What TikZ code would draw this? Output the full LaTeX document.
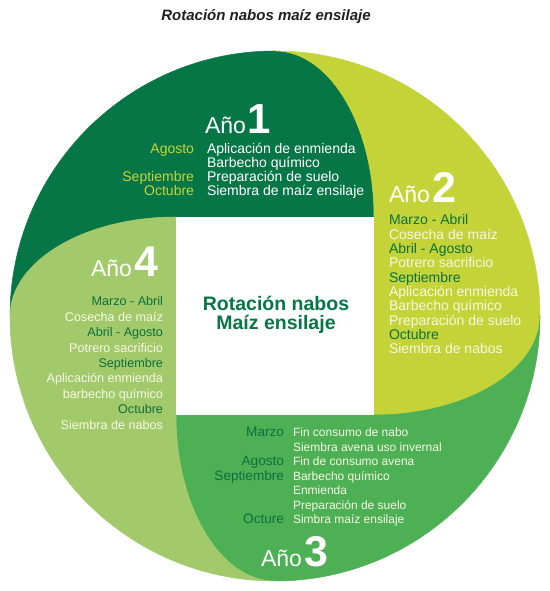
\documentclass[tikz,border=0pt]{standalone}
\usepackage{fontspec}
\setmainfont{Liberation Sans}
\definecolor{gA}{RGB}{7,118,70}
\definecolor{gB}{RGB}{196,212,56}
\definecolor{gC}{RGB}{78,176,84}
\definecolor{gD}{RGB}{162,202,106}
\definecolor{monthdark}{RGB}{12,112,62}
\definecolor{offw}{RGB}{246,248,228}
\definecolor{titlec}{RGB}{35,31,32}
\begin{document}
\begin{tikzpicture}[x=1pt,y=1pt,
  every node/.style={inner sep=0pt,outer sep=0pt},
  regA/.style={fill=gA,draw=gA,line width=0.5pt},
  regB/.style={fill=gB,draw=gB,line width=0.5pt},
  regC/.style={fill=gC,draw=gC,line width=0.5pt},
  regD/.style={fill=gD,draw=gD,line width=0.5pt},
  anotext/.style={text=white,font=\fontsize{23}{23}\selectfont},
  actA/.style={text=white,font=\fontsize{14}{14}\selectfont},
  monA/.style={text=gB,font=\fontsize{14}{14}\selectfont},
  actB/.style={text=offw,font=\fontsize{14}{14}\selectfont},
  monB/.style={text=monthdark,font=\fontsize{14}{14}\selectfont},
  actC/.style={text=offw,font=\fontsize{12}{12}\selectfont},
  monC/.style={text=monthdark,font=\fontsize{13.6}{13.6}\selectfont},
  actD/.style={text=offw,font=\fontsize{12.6}{12.6}\selectfont},
  monD/.style={text=monthdark,font=\fontsize{12.6}{12.6}\selectfont},
  centertext/.style={text=gA,font=\fontsize{19.5}{19.5}\selectfont\bfseries}
]
\useasboundingbox (0,0) rectangle (549,591);
\fill[white] (0,0) rectangle (549,591);
% Year 1 (top)
\path[regA] (275,540) arc[start angle=90,end angle=180,radius=265]
  arc[start angle=180,end angle=90,x radius=166,y radius=99]
  -- (374,374) arc[start angle=0,end angle=90,x radius=99,y radius=166] -- cycle;
% Year 2 (right)
\path[regB] (275,540) arc[start angle=90,end angle=0,radius=265]
  arc[start angle=0,end angle=-90,x radius=166,y radius=99]
  -- (374,374) arc[start angle=0,end angle=90,x radius=99,y radius=166] -- cycle;
% Year 3 (bottom)
\path[regC] (540,275) arc[start angle=0,end angle=-90,radius=265]
  arc[start angle=-90,end angle=-180,x radius=99,y radius=166]
  -- (374,176) arc[start angle=-90,end angle=0,x radius=166,y radius=99] -- cycle;
% Year 4 (left)
\path[regD] (275,10) arc[start angle=-90,end angle=-180,radius=265]
  arc[start angle=180,end angle=90,x radius=166,y radius=99]
  -- (176,176) arc[start angle=-180,end angle=-90,x radius=99,y radius=166] -- cycle;
\fill[white] (176,176) rectangle (374,374);

% Title
\node[anchor=base,text=titlec,font=\fontsize{15}{15}\selectfont\bfseries\itshape] (title) at (266,570) {Rotación nabos maíz ensilaje};

% Center
\node[centertext,anchor=base] (c1) at (276,280) {Rotación nabos};
\node[centertext,anchor=base] (c2) at (276,261) {Maíz ensilaje};

% Year 1
\node[anotext,anchor=base west] (ano1) at (205,457) {Año\hspace{2pt}\fontsize{42}{42}\selectfont\bfseries 1};
\foreach \t [count=\i from 0] in {Aplicación de enmienda,Barbecho químico,Preparación de suelo,Siembra de maíz ensilaje}
  \node[actA,anchor=base west] (y1a\i) at (207,{437-13.7*\i}) {\t};
\node[monA,anchor=base east] (y1m0) at (194,437) {Agosto};
\node[monA,anchor=base east] (y1m2) at (194,409.6) {Septiembre};
\node[monA,anchor=base east] (y1m3) at (194,395.9) {Octubre};

% Year 2
\node[anotext,anchor=base west] (ano2) at (389,388) {Año\hspace{3pt}\fontsize{43}{43}\selectfont\bfseries 2};
\foreach \t/\s [count=\i from 0] in {Marzo - Abril/monB,Cosecha de maíz/actB,Abril - Agosto/monB,Potrero sacrificio/actB,Septiembre/monB,Aplicación enmienda/actB,Barbecho químico/actB,Preparación de suelo/actB,Octubre/monB,Siembra de nabos/actB}
  \node[\s,anchor=base west] (y2l\i) at (389,{366-14.3*\i}) {\t};

% Year 3
\node[anotext,anchor=base west] (ano3) at (261,24) {Año\hspace{3pt}\fontsize{43}{43}\selectfont\bfseries 3};
\foreach \t [count=\i from 0] in {Fin consumo de nabo,Siembra avena uso invernal,Fin de consumo avena,Barbecho químico,Enmienda,Preparación de suelo,Simbra maíz ensilaje}
  \node[actC,anchor=base west] (y3a\i) at (293,{154-14.5*\i}) {\t};
\node[monC,anchor=base east] (y3m0) at (284,154) {Marzo};
\node[monC,anchor=base east] (y3m2) at (284,125) {Agosto};
\node[monC,anchor=base east] (y3m3) at (284,110.5) {Septiembre};
\node[monC,anchor=base east] (y3m6) at (284,67) {Octure};

% Year 4
\node[anotext,anchor=base west] (ano4) at (91,314) {Año\hspace{3pt}\fontsize{43}{43}\selectfont\bfseries 4};
\foreach \t/\s [count=\i from 0] in {Marzo - Abril/monD,Cosecha de maíz/actD,Abril - Agosto/monD,Potrero sacrificio/actD,Septiembre/monD,Aplicación enmienda/actD,barbecho químico/actD,Octubre/monD,Siembra de nabos/actD}
  \node[\s,anchor=base east] (y4l\i) at (163,{285-15.4*\i}) {\t};
\end{tikzpicture}
\end{document}
